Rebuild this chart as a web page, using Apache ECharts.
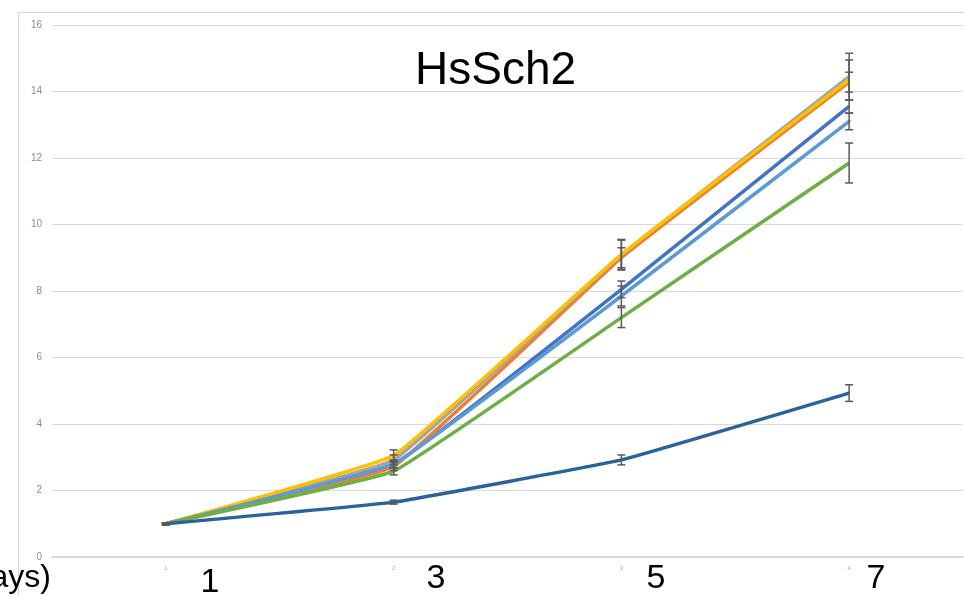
<!DOCTYPE html>
<html><head><meta charset="utf-8">
<script src="https://cdn.jsdelivr.net/npm/echarts@6/dist/echarts.min.js"></script>
<style>html,body{margin:0;padding:0;background:#fff}#c{width:964px;height:596px}</style>
</head><body><div id="c"></div>
<script>
const categories = ['1','2','3','4'];
const dayLabels = ['1','3','5','7'];
const titleText = 'HsSch2';
const axisTitle = '(days)';

const seriesNames = ['A','B','C','D','E','F','G'];
const blue      = [1, 2.78, 8.05, 13.55];
const orange    = [1, 2.72, 9.00, 14.28];
const gray      = [1, 2.92, 9.08, 14.45];
const yellow    = [1, 3.05, 9.10, 14.35];
const lightBlue = [1, 2.80, 7.85, 13.10];
const green     = [1, 2.58, 7.20, 11.85];
const darkBlue  = [1, 1.65, 2.92, 4.93];

const blueErr      = [0.03, 0.10, 0.25, 0.20];
const orangeErr    = [0.03, 0.12, 0.30, 0.30];
const grayErr      = [0.03, 0.15, 0.45, 0.70];
const yellowErr    = [0.03, 0.17, 0.45, 0.60];
const lightBlueErr = [0.03, 0.12, 0.30, 0.25];
const greenErr     = [0.03, 0.11, 0.30, 0.60];
const darkBlueErr  = [0.03, 0.06, 0.15, 0.25];

const colors = ['#4472C4','#ED7D31','#A5A5A5','#FFC000','#5B9BD5','#70AD47','#2A6299'];
const values = [blue, orange, gray, yellow, lightBlue, green, darkBlue];
const errs = [blueErr, orangeErr, grayErr, yellowErr, lightBlueErr, greenErr, darkBlueErr];

const chart = echarts.init(document.getElementById('c'), null, {renderer:'canvas'});

const series = [];
values.forEach((v, i) => {
  series.push({
    name: seriesNames[i], type: 'line', data: v, smooth: 0.08,
    showSymbol: false, symbol: 'none',
    lineStyle: {color: colors[i], width: 3.5}, itemStyle:{color: colors[i]},
    z: 2 + i * 0.01
  });
});
const errData = [];
values.forEach((v, i) => v.forEach((y, j) => errData.push([j, y - errs[i][j], y + errs[i][j]])));
series.push({
  type: 'custom', z: 10,
  data: errData,
  renderItem: function (params, api) {
    const lo = api.coord([api.value(0), api.value(1)]);
    const hi = api.coord([api.value(0), api.value(2)]);
    const w = 4;
    const st = {stroke: '#5a5a5a', lineWidth: 1.5};
    return {type: 'group', children: [
      {type:'line', shape:{x1:lo[0], y1:lo[1], x2:hi[0], y2:hi[1]}, style: st},
      {type:'line', shape:{x1:lo[0]-w, y1:lo[1], x2:lo[0]+w, y2:lo[1]}, style: st},
      {type:'line', shape:{x1:hi[0]-w, y1:hi[1], x2:hi[0]+w, y2:hi[1]}, style: st}
    ]};
  }
});

const graphics = [
  {type:'line', shape:{x1:18.5, y1:12, x2:18.5, y2:596}, style:{stroke:'#d9d9d9', lineWidth:1}},
  {type:'line', shape:{x1:18, y1:12.5, x2:964, y2:12.5}, style:{stroke:'#d9d9d9', lineWidth:1}},
  {type:'text', left: 415, top: 48, style:{text: titleText, font: '46px "Liberation Sans", Arial, sans-serif', fill:'#000'}},
  {type:'text', right: 913, top: 562, style:{text: axisTitle, font: '32px "Liberation Sans", Arial, sans-serif', fill:'#000'}}
];
const bigX = [210, 436, 656, 876];
const bigY = [566, 562, 562, 562];
dayLabels.forEach((t, i) => graphics.push({type:'text', x: bigX[i], y: bigY[i], style:{text:t, font:'34px "Liberation Sans", Arial, sans-serif', fill:'#000', align:'center', verticalAlign:'top'}}));

chart.setOption({
  animation: false,
  grid: {left: 52, right: 1, top: 25, bottom: 39},
  xAxis: {
    type: 'category', data: categories, boundaryGap: true,
    axisLine: {lineStyle: {color: '#d9d9d9', width: 2}},
    axisTick: {show: false},
    axisLabel: {fontSize: 6, color: '#aaaaaa', margin: 8}
  },
  yAxis: {
    type: 'value', min: 0, max: 16, interval: 2,
    axisLine: {show: false}, axisTick: {show: false},
    axisLabel: {fontSize: 10, color: '#8c8c8c', margin: 10, fontFamily: 'Liberation Sans'},
    splitLine: {lineStyle: {color: '#d9d9d9', width: 1}}
  },
  series: series,
  graphic: graphics
});
</script></body></html>
